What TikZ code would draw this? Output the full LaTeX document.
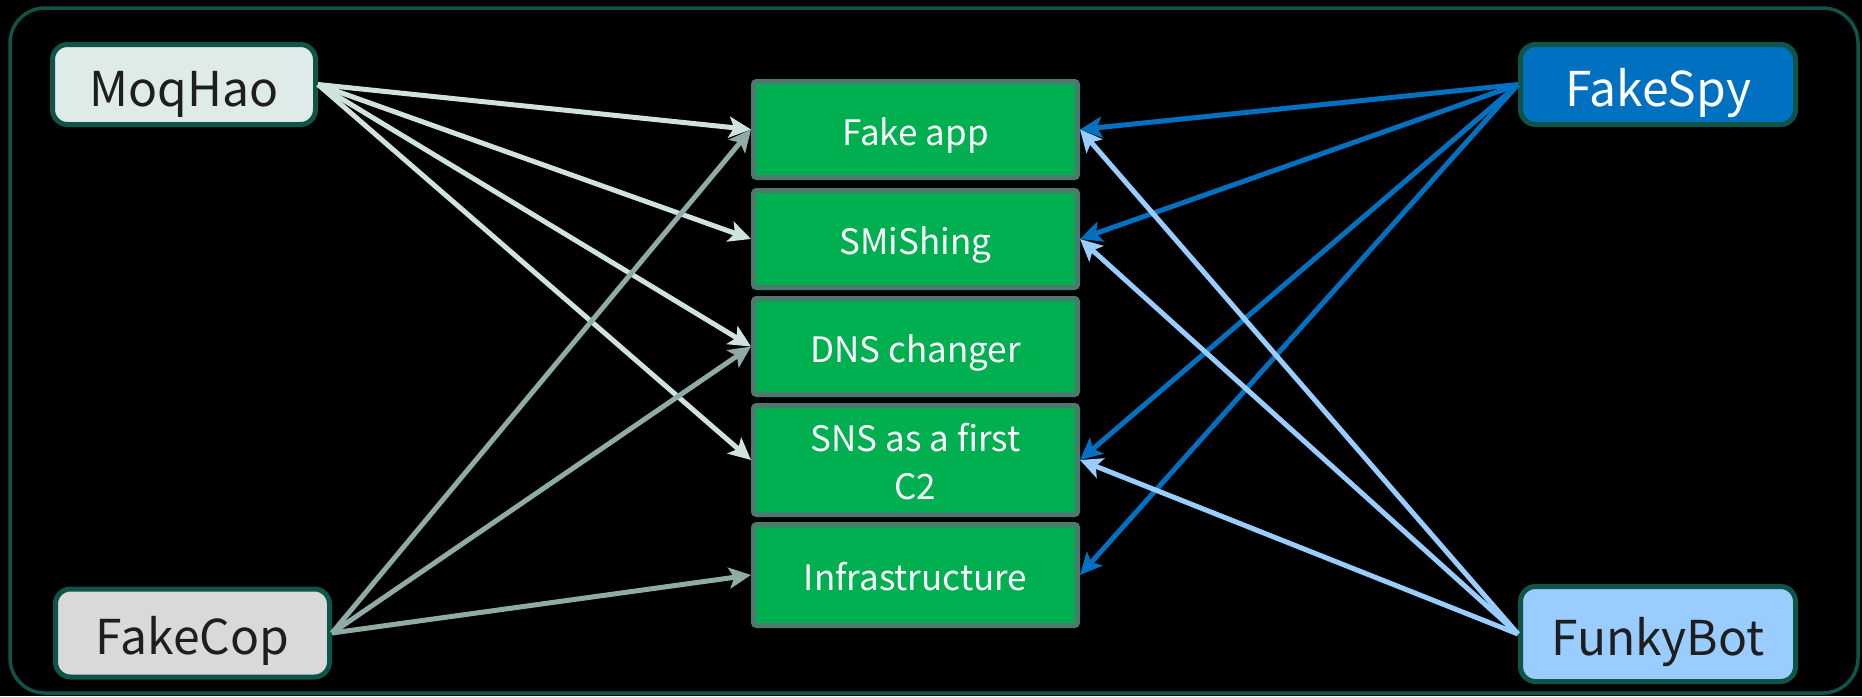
\documentclass[tikz,border=0pt]{standalone}
\usepackage{fontspec}
\setmainfont{Noto Sans CJK JP}
\usetikzlibrary{arrows.meta}

\definecolor{frameteal}{HTML}{0E5449}
\definecolor{traitgreen}{HTML}{00B050}
\definecolor{traitedge}{HTML}{4D7A6F}
\definecolor{darktext}{HTML}{1E1E1E}
\definecolor{moqfill}{HTML}{DEEBE8}
\definecolor{copfill}{HTML}{D9D9D9}
\definecolor{spyfill}{HTML}{0070C0}
\definecolor{funkyfill}{HTML}{99CCFF}
\definecolor{moqline}{HTML}{CFE2DE}
\definecolor{copline}{HTML}{8FABA5}

\begin{document}
\begin{tikzpicture}[x=0.5pt,y=-0.5pt,
  family/.style={draw=frameteal, line width=2.5pt, rounded corners=7.5pt,
    text=darktext, inner sep=0pt, text height=21.6pt, text depth=0pt,
    font=\fontsize{24}{30}\selectfont},
  trait/.style={draw=traitedge, fill=traitgreen, line width=2.5pt,
    rounded corners=1.5pt, text=white, inner sep=0pt, align=center,
    text height=15.75pt, text depth=0pt,
    minimum width=162pt, font=\fontsize{17.5}{24}\selectfont},
  link/.style={line width=2.5pt, -{Stealth[length=11pt,width=10.5pt,inset=2.5pt]}}]

  % page and outer frame
  \fill[black] (0,0) rectangle (1862,696);
  \useasboundingbox (0,0) rectangle (1862,696);
  \draw[frameteal, line width=1.75pt, rounded corners=17.5pt] (10,8) rectangle (1858,693);

  % malware families
  \node (moq)   at (184,84.5)  [family, fill=moqfill,   minimum width=131.5pt, minimum height=40pt] {MoqHao};
  \node (cop)   at (192.5,633) [family, fill=copfill,   minimum width=137pt, minimum height=44pt] {FakeCop};
  \node (spy)   at (1658,84.5) [family, fill=spyfill, text=white, minimum width=137.5pt, minimum height=40pt] {FakeSpy};
  \node (funky) at (1658,634)  [family, fill=funkyfill, minimum width=137.5pt, minimum height=47.5pt] {FunkyBot};

  % shared traits
  \node (fake)  at (915.5,129.5) [trait, minimum height=48pt]   {Fake app};
  \node (smish) at (915.5,239)   [trait, minimum height=48.5pt] {SMiShing};
  \node (dns)   at (915.5,346.5) [trait, minimum height=48pt]   {DNS changer};
  \node (sns)   at (915.5,460)   [trait, minimum height=54.5pt, text height=39.75pt] {SNS as a first\\C2};
  \node (infra) at (915.5,575)   [trait, minimum height=50.5pt] {Infrastructure};

  % who uses what
  \foreach \t in {fake,smish,dns,sns}
    \draw[link, moqline] (moq.east) -- (\t.west);
  \foreach \t in {fake,dns,infra}
    \draw[link, copline] (cop.east) -- (\t.west);
  \foreach \t in {fake,smish,sns,infra}
    \draw[link, spyfill] (spy.west) -- (\t.east);
  \foreach \t in {fake,smish,sns}
    \draw[link, funkyfill] (funky.west) -- (\t.east);
\end{tikzpicture}
\end{document}
